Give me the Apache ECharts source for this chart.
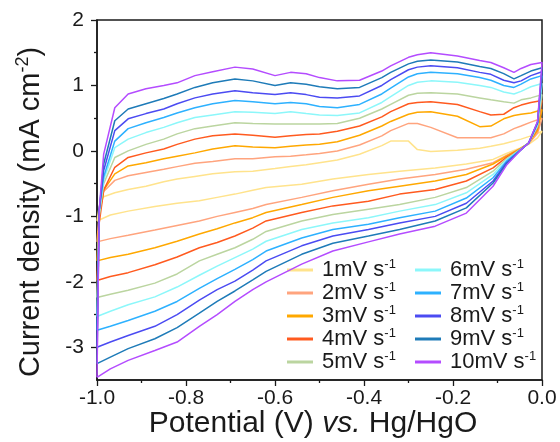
<!DOCTYPE html>
<html>
<head>
<meta charset="utf-8">
<script src="https://cdn.jsdelivr.net/npm/echarts@6/dist/echarts.min.js"></script>
<style>
  html, body { margin: 0; padding: 0; background: #fff; }
  #chart { width: 560px; height: 442px; }
</style>
</head>
<body>
<div id="chart"></div>
<script>
// Scan rates (legend names) and line colours
const rates = ['1mV', '2mV', '3mV', '4mV', '5mV', '6mV', '7mV', '8mV', '9mV', '10mV'];
const colors = ['#FFE38C', '#FFA47E', '#FFA800', '#FF5A1F', '#BBD5A0',
                '#8CF7FA', '#2DB1FF', '#4B4BF2', '#1E7BB8', '#B44CFF'];

// Anodic sweep potentials (V vs. Hg/HgO), -1.0 -> 0.0
const upperPotential = [-1.0, -0.995, -0.985, -0.96, -0.93, -0.89, -0.85, -0.82, -0.78, -0.74,
  -0.69, -0.65, -0.6, -0.565, -0.53, -0.5, -0.46, -0.41, -0.36, -0.34,
  -0.3, -0.28, -0.25, -0.19, -0.14, -0.115, -0.086, -0.063, -0.047, -0.025, 0.0];

// Cathodic sweep potentials, 0.0 -> -1.0
const lowerPotential = [0.0, -0.01, -0.03, -0.05, -0.08, -0.11, -0.17, -0.24, -0.32, -0.39,
  -0.47, -0.54, -0.62, -0.65, -0.69, -0.73, -0.77, -0.82, -0.87, -0.93, -0.97, -1.0];

// Current density (mA cm-2) on the anodic sweep, one array per scan rate
const up1  = [-1.07, -0.85, -0.7, -0.64, -0.59, -0.54, -0.47, -0.43, -0.39, -0.35, -0.32, -0.31, -0.27, -0.24, -0.21, -0.18, -0.14, -0.05, 0.08, 0.15, 0.15, 0.02, -0.01, 0.01, 0.04, 0.07, 0.11, 0.15, 0.18, 0.23, 0.3];
const up2  = [-1.39, -0.95, -0.62, -0.45, -0.38, -0.33, -0.28, -0.24, -0.19, -0.16, -0.12, -0.12, -0.09, -0.08, -0.06, -0.04, 0.0, 0.09, 0.23, 0.31, 0.42, 0.42, 0.36, 0.2, 0.2, 0.2, 0.26, 0.34, 0.38, 0.44, 0.5];
const up3  = [-1.68, -1.0, -0.6, -0.35, -0.23, -0.18, -0.12, -0.08, -0.03, 0.03, 0.08, 0.06, 0.05, 0.07, 0.09, 0.1, 0.14, 0.24, 0.38, 0.45, 0.56, 0.59, 0.6, 0.53, 0.37, 0.38, 0.49, 0.54, 0.56, 0.58, 0.63];
const up4  = [-1.98, -1.1, -0.6, -0.25, -0.1, -0.03, 0.03, 0.1, 0.18, 0.23, 0.26, 0.24, 0.21, 0.23, 0.25, 0.26, 0.3, 0.38, 0.52, 0.6, 0.72, 0.74, 0.75, 0.71, 0.6, 0.55, 0.56, 0.66, 0.7, 0.74, 0.77];
const up5  = [-2.24, -1.0, -0.5, -0.1, 0.0, 0.1, 0.18, 0.26, 0.34, 0.38, 0.43, 0.42, 0.41, 0.41, 0.41, 0.41, 0.42, 0.5, 0.64, 0.71, 0.85, 0.88, 0.89, 0.87, 0.81, 0.78, 0.75, 0.73, 0.78, 0.81, 0.86];
const up6  = [-2.53, -0.95, -0.45, 0.05, 0.18, 0.28, 0.36, 0.43, 0.51, 0.55, 0.6, 0.59, 0.57, 0.6, 0.57, 0.55, 0.54, 0.58, 0.74, 0.83, 1.0, 1.05, 1.07, 1.05, 1.0, 0.97, 0.9, 0.87, 0.91, 0.98, 1.03];
const up7  = [-2.74, -0.9, -0.4, 0.15, 0.34, 0.43, 0.51, 0.58, 0.66, 0.72, 0.77, 0.75, 0.72, 0.74, 0.72, 0.68, 0.66, 0.71, 0.87, 0.96, 1.13, 1.18, 1.2, 1.18, 1.12, 1.08, 1.0, 0.97, 1.02, 1.1, 1.15];
const up8  = [-3.0, -0.9, -0.3, 0.31, 0.49, 0.57, 0.64, 0.72, 0.81, 0.87, 0.92, 0.89, 0.86, 0.89, 0.86, 0.82, 0.81, 0.84, 1.0, 1.09, 1.24, 1.28, 1.3, 1.27, 1.2, 1.17, 1.08, 1.04, 1.07, 1.15, 1.21];
const up9  = [-3.25, -0.9, -0.2, 0.46, 0.64, 0.72, 0.8, 0.87, 0.97, 1.04, 1.1, 1.07, 1.0, 1.04, 1.02, 0.98, 0.95, 0.97, 1.12, 1.2, 1.33, 1.37, 1.39, 1.36, 1.29, 1.26, 1.18, 1.1, 1.15, 1.22, 1.27];
const up10 = [-3.46, -0.9, -0.05, 0.66, 0.87, 0.95, 1.0, 1.04, 1.15, 1.21, 1.28, 1.25, 1.15, 1.2, 1.18, 1.12, 1.07, 1.08, 1.22, 1.3, 1.43, 1.47, 1.5, 1.45, 1.38, 1.35, 1.27, 1.2, 1.26, 1.32, 1.35];

// Current density on the cathodic sweep
const down1  = [0.3, 0.2, 0.1, 0.04, -0.04, -0.13, -0.2, -0.26, -0.31, -0.36, -0.43, -0.51, -0.56, -0.6, -0.66, -0.71, -0.76, -0.8, -0.85, -0.92, -0.98, -1.07];
const down2  = [0.5, 0.27, 0.11, 0.03, -0.07, -0.18, -0.28, -0.36, -0.43, -0.51, -0.61, -0.71, -0.82, -0.88, -0.94, -1.0, -1.07, -1.14, -1.21, -1.29, -1.34, -1.39];
const down3  = [0.63, 0.31, 0.12, 0.03, -0.08, -0.2, -0.36, -0.46, -0.54, -0.61, -0.71, -0.82, -0.94, -1.02, -1.1, -1.19, -1.27, -1.38, -1.48, -1.58, -1.63, -1.68];
const down4  = [0.77, 0.35, 0.12, 0.02, -0.1, -0.26, -0.46, -0.59, -0.66, -0.77, -0.84, -0.94, -1.07, -1.18, -1.3, -1.4, -1.48, -1.62, -1.74, -1.86, -1.92, -1.98];
const down5  = [0.86, 0.37, 0.12, 0.02, -0.12, -0.31, -0.56, -0.71, -0.82, -0.89, -0.97, -1.07, -1.23, -1.35, -1.48, -1.58, -1.68, -1.88, -2.02, -2.13, -2.19, -2.24];
const down6  = [1.03, 0.4, 0.12, 0.01, -0.14, -0.36, -0.64, -0.82, -0.92, -1.02, -1.1, -1.2, -1.38, -1.5, -1.63, -1.76, -1.9, -2.08, -2.23, -2.35, -2.45, -2.53];
const down7  = [1.15, 0.42, 0.12, 0.01, -0.16, -0.41, -0.72, -0.92, -1.02, -1.12, -1.2, -1.33, -1.53, -1.66, -1.81, -1.95, -2.1, -2.3, -2.45, -2.59, -2.68, -2.74];
const down8  = [1.21, 0.43, 0.12, 0.0, -0.18, -0.46, -0.8, -1.0, -1.1, -1.2, -1.3, -1.45, -1.68, -1.82, -1.99, -2.12, -2.28, -2.5, -2.68, -2.82, -2.92, -3.0];
const down9  = [1.27, 0.44, 0.12, 0.0, -0.2, -0.49, -0.87, -1.07, -1.2, -1.3, -1.41, -1.58, -1.84, -1.97, -2.14, -2.3, -2.48, -2.7, -2.87, -3.02, -3.15, -3.25];
const down10 = [1.35, 0.45, 0.12, 0.0, -0.22, -0.54, -0.95, -1.15, -1.27, -1.39, -1.53, -1.73, -2.0, -2.12, -2.3, -2.5, -2.68, -2.92, -3.05, -3.2, -3.33, -3.46];

// Axis tick values
const yTicks = [-3, -2, -1, 0, 1, 2];
const yMinorTicks = [-2.5, -1.5, -0.5, 0.5, 1.5];

const upSweeps = [up1, up2, up3, up4, up5, up6, up7, up8, up9, up10];
const downSweeps = [down1, down2, down3, down4, down5, down6, down7, down8, down9, down10];

const FONT = '"Liberation Sans", Arial, sans-serif';
const INK = '#1a1a1a';

// Each voltammogram is one closed loop: anodic sweep then cathodic sweep
function loop(i) {
  const pts = upperPotential.map((v, k) => [v, upSweeps[i][k]]);
  return pts.concat(lowerPotential.map((v, k) => [v, downSweeps[i][k]]));
}

const series = rates.map((name, i) => ({
  name: name,
  type: 'line',
  data: loop(i),
  showSymbol: false,
  symbol: 'none',
  smooth: false,
  lineStyle: { color: colors[i], width: 1.5 },
  itemStyle: { color: colors[i] },
  z: 2 + i
}));

const legendText = {
  fontFamily: FONT,
  color: INK,
  rich: {
    t: { fontFamily: FONT, fontSize: 22, lineHeight: 24, color: INK, padding: [0, 0, 0, 4] },
    u: { fontFamily: FONT, fontSize: 13, lineHeight: 24, color: INK, verticalAlign: 'top' }
  }
};
const legendFormatter = (name) => '{t|' + name + ' s}{u|-1}';

function legendColumn(names, left) {
  return {
    data: names,
    orient: 'vertical',
    left: left,
    top: 258,
    icon: 'rect',
    itemWidth: 26,
    itemHeight: 3,
    itemGap: 0,
    padding: 0,
    textStyle: legendText,
    formatter: legendFormatter,
    selectedMode: false
  };
}

const chart = echarts.init(document.getElementById('chart'), null, { renderer: 'canvas' });

chart.setOption({
  animation: false,
  backgroundColor: '#fff',
  grid: {
    left: 97, right: 18, top: 20, bottom: 62,
    show: true, borderColor: INK, borderWidth: 1.5, backgroundColor: 'transparent'
  },
  xAxis: {
    type: 'value',
    min: -1.0,
    max: 0.0,
    interval: 0.2,
    axisLine: { show: true, onZero: false, lineStyle: { color: INK, width: 1.5 } },
    axisTick: { show: true, inside: false, length: 6, lineStyle: { color: INK, width: 1.3 } },
    minorTick: { show: true, splitNumber: 2, length: 3, lineStyle: { color: INK, width: 1.3 } },
    axisLabel: {
      fontFamily: FONT, fontSize: 21, color: INK, margin: 8,
      showMinLabel: true, showMaxLabel: true,
      formatter: (v) => (Math.abs(v) < 1e-9 ? 0 : v).toFixed(1)
    },
    splitLine: { show: false },
    minorSplitLine: { show: false }
  },
  yAxis: [
    {
      type: 'value',
      min: -3.5,
      max: 2,
      axisLine: { show: true, onZero: false, lineStyle: { color: INK, width: 1.5 } },
      axisTick: { show: true, inside: false, length: 6, customValues: yTicks, lineStyle: { color: INK, width: 1.3 } },
      axisLabel: { fontFamily: FONT, fontSize: 21, color: INK, margin: 13, customValues: yTicks },
      splitLine: { show: false }
    },
    {
      type: 'value',
      min: -3.5,
      max: 2,
      position: 'left',
      axisLine: { show: false, onZero: false },
      axisTick: { show: true, inside: false, length: 3, customValues: yMinorTicks, lineStyle: { color: INK, width: 1.3 } },
      axisLabel: { show: false },
      splitLine: { show: false }
    }
  ],
  legend: [legendColumn(rates.slice(0, 5), 287), legendColumn(rates.slice(5), 415)],
  graphic: [
    {
      type: 'text',
      x: 313,
      y: 424,
      style: {
        text: '{n|Potential (V) }{i|vs.}{n| Hg/HgO}',
        align: 'center',
        verticalAlign: 'middle',
        fill: INK,
        rich: {
          n: { fontFamily: FONT, fontSize: 30, fill: INK },
          i: { fontFamily: FONT, fontSize: 30, fontStyle: 'italic', fill: INK }
        }
      }
    },
    {
      type: 'text',
      x: 31,
      y: 212,
      rotation: Math.PI / 2,
      style: {
        text: '{n|Current density (mA cm}{s|-2}{n|)}',
        align: 'center',
        verticalAlign: 'middle',
        fill: INK,
        rich: {
          n: { fontFamily: FONT, fontSize: 29, lineHeight: 34, fill: INK },
          s: { fontFamily: FONT, fontSize: 18, lineHeight: 34, verticalAlign: 'top', fill: INK }
        }
      }
    }
  ],
  series: series
});
</script>
</body>
</html>
